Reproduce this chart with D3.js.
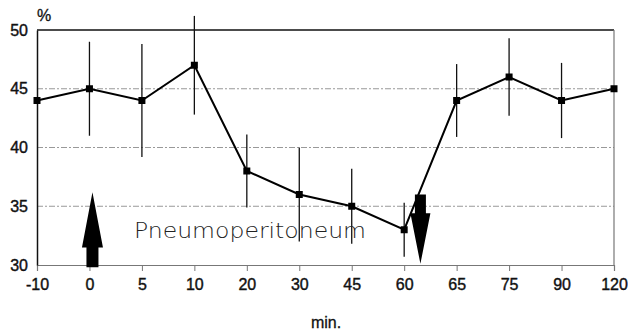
<!DOCTYPE html>
<html>
<head>
<meta charset="utf-8">
<script src="https://cdn.jsdelivr.net/npm/d3@7"></script>
<style>
  body { margin: 0; background: #fff; }
  svg { display: block; }
  .tick text { font-family: "Liberation Sans", Arial, sans-serif; font-size: 16px; fill: #111; stroke: #111; stroke-width: 0.4px; }
</style>
</head>
<body>
<svg width="628" height="333"></svg>
<script>
// time points (min.)
const times = ["-10", "0", "5", "10", "20", "30", "45", "60", "65", "75", "90", "120"];
// mean values (%)
const means = [44, 45, 44, 47, 38, 36, 35, 33, 44, 46, 44, 45];
// error bar half-widths (0 = not visible)
const errs = [0, 4, 4.8, 4.2, 3.1, 4, 3.2, 2.3, 3.1, 3.3, 3.2, 0];
const yTicks = [30, 35, 40, 45, 50];

const svg = d3.select("svg");
const plotLeft = 37, plotRight = 614, plotTop = 30, plotBottom = 265;

const x = d3.scalePoint().domain(times).range([plotLeft, plotRight]).padding(0);
const y = d3.scaleLinear().domain([30, 50]).range([plotBottom, plotTop]);

// grid lines
svg.append("g")
  .selectAll("line")
  .data([35, 40, 45])
  .enter()
  .append("line")
  .attr("x1", plotLeft).attr("x2", plotRight)
  .attr("y1", d => y(d)).attr("y2", d => y(d))
  .attr("stroke", "#999")
  .attr("stroke-width", 1)
  .attr("stroke-dasharray", "6,2,2,2");

// frame: top solid, right grey
svg.append("line")
  .attr("x1", plotLeft).attr("x2", plotRight)
  .attr("y1", y(50)).attr("y2", y(50))
  .attr("stroke", "#111").attr("stroke-width", 1.5);
svg.append("line")
  .attr("x1", plotRight).attr("x2", plotRight)
  .attr("y1", y(50)).attr("y2", y(30))
  .attr("stroke", "#777").attr("stroke-width", 1.2);

// x axis
const xAxis = svg.append("g")
  .attr("transform", `translate(0,${plotBottom})`)
  .call(d3.axisBottom(x).tickSize(6).tickPadding(8));
xAxis.select(".domain").attr("stroke", "#777").attr("stroke-width", 1.2);
xAxis.selectAll(".tick line").attr("stroke", "#777");

// y axis
const yAxis = svg.append("g")
  .attr("transform", `translate(${plotLeft},0)`)
  .call(d3.axisLeft(y).tickValues(yTicks).tickSize(0).tickPadding(9));
yAxis.select(".domain").attr("stroke", "#111").attr("stroke-width", 1.5);

// error bars
svg.append("g")
  .selectAll("line")
  .data(times.map((t, i) => ({ t, m: means[i], e: errs[i] })).filter(d => d.e > 0))
  .enter()
  .append("line")
  .attr("x1", d => x(d.t)).attr("x2", d => x(d.t))
  .attr("y1", d => y(d.m + d.e)).attr("y2", d => y(d.m - d.e))
  .attr("stroke", "#111").attr("stroke-width", 1.3);

// arrows (drawn before the line so the line sits on top)
const upX = x(times[1]) + 3;
const downX = (x(times[7]) + x(times[8])) / 2 - 10;
svg.append("path")
  .attr("d", `M${upX},${y(36.2)} L${upX + 10.5},${y(31.5)} L${upX + 6},${y(31.5)} L${upX + 6},${y(29.8)}
              L${upX - 6},${y(29.8)} L${upX - 6},${y(31.5)} L${upX - 10.5},${y(31.5)} Z`)
  .attr("fill", "#000");
svg.append("path")
  .attr("d", `M${downX},${y(30.1)} L${downX + 10},${y(34.4)} L${downX + 5.5},${y(34.4)} L${downX + 5.5},${y(36)}
              L${downX - 5.5},${y(36)} L${downX - 5.5},${y(34.4)} L${downX - 10},${y(34.4)} Z`)
  .attr("fill", "#000");

// line
const line = d3.line()
  .x((d, i) => x(times[i]))
  .y(d => y(d));
svg.append("path")
  .datum(means)
  .attr("d", line)
  .attr("fill", "none")
  .attr("stroke", "#000")
  .attr("stroke-width", 2);

// markers
svg.append("g")
  .selectAll("rect")
  .data(means)
  .enter()
  .append("rect")
  .attr("x", (d, i) => x(times[i]) - 3.5)
  .attr("y", d => y(d) - 3.5)
  .attr("width", 7).attr("height", 7)
  .attr("fill", "#000");

// labels
svg.append("text")
  .attr("x", 134).attr("y", 238)
  .attr("font-family", "'DejaVu Sans', sans-serif")
  .attr("font-weight", 200)
  .attr("font-size", 22)
  .attr("textLength", 232)
  .attr("lengthAdjust", "spacingAndGlyphs")
  .attr("fill", "#222")
  .text("Pneumoperitoneum");

svg.append("text")
  .attr("x", 37).attr("y", 21)
  .attr("font-family", "'Liberation Sans', Arial, sans-serif")
  .attr("font-size", 16)
  .attr("fill", "#111")
  .attr("stroke", "#111").attr("stroke-width", 0.3)
  .text("%");

svg.append("text")
  .attr("x", 326).attr("y", 328)
  .attr("text-anchor", "middle")
  .attr("font-family", "'Liberation Sans', Arial, sans-serif")
  .attr("font-size", 16)
  .attr("fill", "#111")
  .attr("stroke", "#111").attr("stroke-width", 0.3)
  .text("min.");
</script>
</body>
</html>
